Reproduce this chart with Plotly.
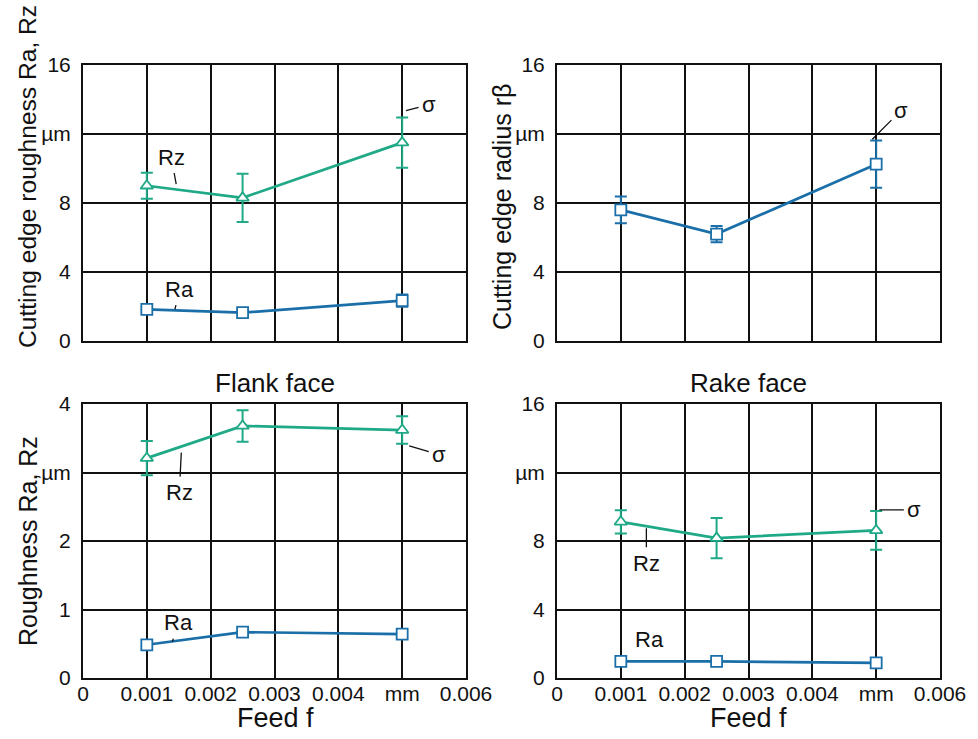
import plotly.graph_objects as go

# Feed values (mm) shared by all panels
feed = [0.001, 0.0025, 0.005]

# Flank face – cutting edge roughness (µm)
flank_edge_rz = [9.0, 8.3, 11.5]
flank_edge_rz_sd = [0.75, 1.4, 1.45]
flank_edge_ra = [1.83, 1.64, 2.34]
flank_edge_ra_sd = [0.0, 0.0, 0.35]

# Rake face – cutting edge radius rβ (µm)
rake_radius = [7.6, 6.2, 10.25]
rake_radius_sd = [0.78, 0.47, 1.37]

# Flank face – surface roughness (µm)
flank_rz = [3.21, 3.68, 3.62]
flank_rz_sd = [0.25, 0.23, 0.2]
flank_ra = [0.485, 0.67, 0.64]

# Rake face – surface roughness (µm)
rake_rz = [9.12, 8.17, 8.62]
rake_rz_sd = [0.68, 1.17, 1.13]
rake_ra = [0.97, 0.97, 0.88]

# Tick labels
x_tickvals = [0, 0.001, 0.002, 0.003, 0.004, 0.005, 0.006]
x_ticktext = ["0", "0.001", "0.002", "0.003", "0.004", "mm", "0.006"]
y16_vals = [0, 4, 8, 12, 16]
y16_text = ["0", "4", "8", "µm", "16"]
y4_vals = [0, 1, 2, 3, 4]
y4_text = ["0", "1", "2", "µm", "4"]

GREEN = "#1fa986"
BLUE = "#1a6fa8"
FONT = "Liberation Sans, Arial, sans-serif"

fig = go.Figure()


def add_series(y, sd, color, symbol, xa, ya):
    err = None
    if sd is not None:
        err = dict(type="data", array=sd, visible=True, color=color,
                   thickness=2, width=6)
    fig.add_trace(go.Scatter(
        x=feed, y=y, mode="lines+markers", xaxis=xa, yaxis=ya,
        line=dict(color=color, width=2.7),
        marker=dict(symbol=symbol, size=11, color="white",
                    line=dict(color=color, width=1.8)),
        error_y=err, showlegend=False, hoverinfo="skip"))


# top-left: cutting edge roughness (flank face)
add_series(flank_edge_rz, flank_edge_rz_sd, GREEN, "triangle-up", "x", "y")
add_series(flank_edge_ra, flank_edge_ra_sd, BLUE, "square", "x", "y")
# top-right: cutting edge radius (rake face)
add_series(rake_radius, rake_radius_sd, BLUE, "square", "x2", "y2")
# bottom-left: roughness (flank face)
add_series(flank_rz, flank_rz_sd, GREEN, "triangle-up", "x3", "y3")
add_series(flank_ra, None, BLUE, "square", "x3", "y3")
# bottom-right: roughness (rake face)
add_series(rake_rz, rake_rz_sd, GREEN, "triangle-up", "x4", "y4")
add_series(rake_ra, None, BLUE, "square", "x4", "y4")

W, H = 978, 739
left_dom = [83 / W, 466 / W]
right_dom = [557 / W, 940 / W]
top_dom = [1 - 341 / H, 1 - 65 / H]
bot_dom = [1 - 678 / H, 1 - 404 / H]

tickfont = dict(family=FONT, size=21, color="#111")


def xax(domain, anchor, labels):
    return dict(domain=domain, anchor=anchor, range=[0, 0.006],
                tickvals=x_tickvals, ticktext=x_ticktext,
                showticklabels=labels, ticks="", ticklabelstandoff=-4,
                showgrid=True, gridcolor="#111", gridwidth=1.5,
                showline=True, linecolor="#111", linewidth=2, mirror=True,
                zeroline=False, automargin=False, tickfont=tickfont)


def yax(domain, anchor, rng, vals, text):
    return dict(domain=domain, anchor=anchor, range=rng,
                tickvals=vals, ticktext=text, ticks="", ticklabelstandoff=6,
                showgrid=True, gridcolor="#111", gridwidth=1.5,
                showline=True, linecolor="#111", linewidth=2, mirror=True,
                zeroline=False, automargin=False, tickfont=tickfont)


fig.update_layout(
    width=W, height=H,
    margin=dict(l=0, r=0, t=0, b=0, pad=0),
    paper_bgcolor="white", plot_bgcolor="white",
    font=dict(family=FONT, color="#111"),
    xaxis=xax(left_dom, "y", False),
    yaxis=yax(top_dom, "x", [0, 16], y16_vals, y16_text),
    xaxis2=xax(right_dom, "y2", False),
    yaxis2=yax(top_dom, "x2", [0, 16], y16_vals, y16_text),
    xaxis3=xax(left_dom, "y3", True),
    yaxis3=yax(bot_dom, "x3", [0, 4], y4_vals, y4_text),
    xaxis4=xax(right_dom, "y4", True),
    yaxis4=yax(bot_dom, "x4", [0, 16], y16_vals, y16_text),
)

# Series labels with leader lines
label_font = dict(family=FONT, size=22, color="#111")
labels = [
    ("x", "y", 0.00146, 9.1, "Rz", -5, -27),
    ("x", "y", 0.00144, 1.84, "Ra", 5, -20),
    ("x", "y", 0.00506, 13.35, "σ", 23, -6),
    ("x2", "y2", 0.00494, 11.7, "σ", 29, -29),
    ("x3", "y3", 0.00154, 3.29, "Rz", -2, 40),
    ("x3", "y3", 0.00140, 0.53, "Ra", 6, -19),
    ("x3", "y3", 0.00511, 3.39, "σ", 30, 9),
    ("x4", "y4", 0.00505, 9.82, "σ", 35, 0),
    ("x4", "y4", 0.00140, 8.75, "Rz", 0, 35),
    ("x4", "y4", 0.00136, 1.40, "Ra", 6, -15),
]
for xr, yr, x, y, t, ax, ay in labels:
    fig.add_annotation(xref=xr, yref=yr, x=x, y=y, text=t, showarrow=True,
                       arrowhead=0, arrowwidth=1.3, arrowcolor="#111",
                       ax=ax, ay=ay, startstandoff=2, font=label_font)


def paper_text(px, py, text, size, angle=0):
    fig.add_annotation(xref="paper", yref="paper", x=px / W, y=1 - py / H,
                       xanchor="center", yanchor="middle", text=text,
                       textangle=angle, showarrow=False,
                       font=dict(family=FONT, size=size, color="#111"))


# Axis titles
paper_text(28, 177, "Cutting edge roughness Ra, Rz", 24.6, -90)
paper_text(28, 541, "Roughness Ra, Rz", 25, -90)
paper_text(502, 207, "Cutting edge radius rβ", 25, -90)
for cx in (275, 748):
    paper_text(cx, 718, "Feed f", 27)

# Panel headings
paper_text(275, 383, "Flank face", 26)
paper_text(748, 383, "Rake face", 26)

fig.write_html("out.html")
